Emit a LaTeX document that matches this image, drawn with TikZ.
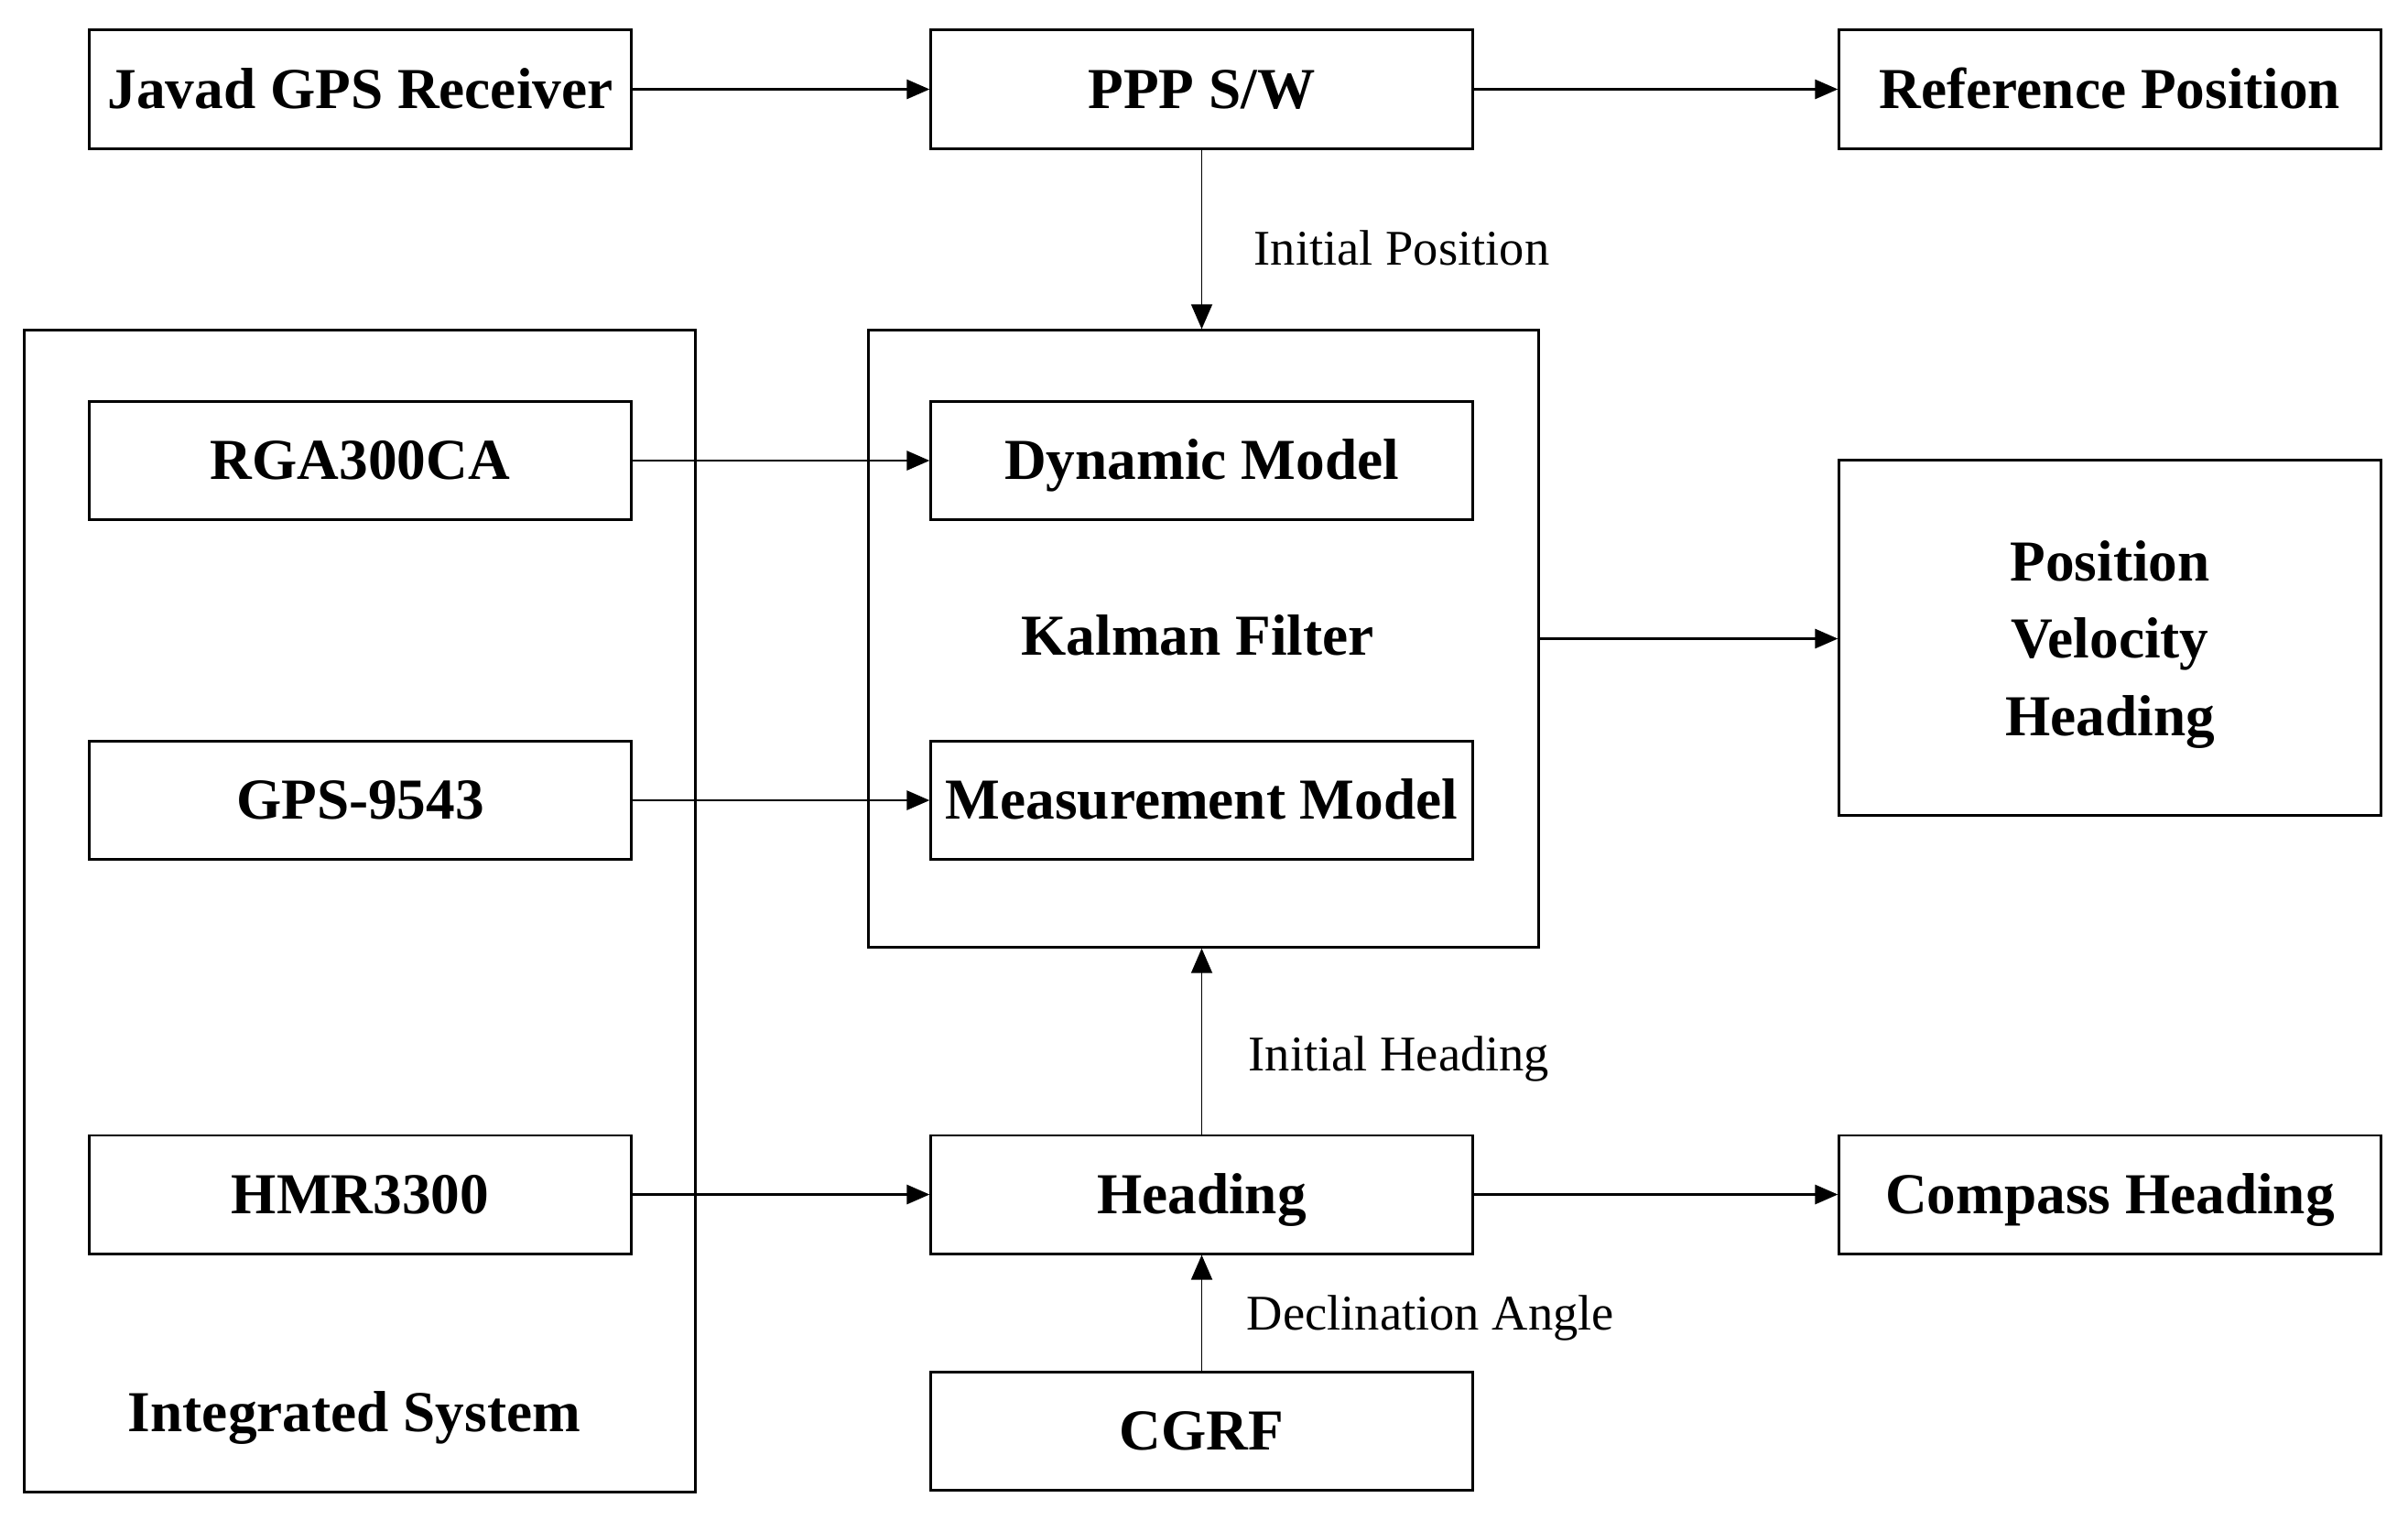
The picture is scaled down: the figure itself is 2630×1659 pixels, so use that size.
\documentclass[tikz,border=0pt]{standalone}
\usepackage{fontspec}
\setmainfont{Liberation Serif}
\usetikzlibrary{arrows.meta}
\begin{document}
\begin{tikzpicture}[x=0.01cm,y=-0.01cm,
  blk/.style={draw,line width=0.85pt,minimum width=5.91cm,minimum height=1.29cm,inner sep=0pt,
    font=\bfseries\fontsize{18}{22}\selectfont,text height=11.9pt,text depth=0pt},
  frame/.style={draw,line width=0.85pt,inner sep=0pt},
  title/.style={font=\bfseries\fontsize{18}{22}\selectfont,inner sep=0pt,text height=11.9pt,text depth=0pt},
  lbl/.style={font=\fontsize{15.5}{18}\selectfont,inner sep=0pt,anchor=base west},
  harr/.style={line width=0.8pt,-{Triangle[length=0.25cm,width=0.21cm]}},
  varr/.style={line width=0.5pt,-{Triangle[length=0.27cm,width=0.23cm]}}]
\useasboundingbox (0,0) rectangle (2630,1659);
% outer frames
\node[frame,minimum width=7.32cm,minimum height=12.68cm] (integ) at (393,995) {};
\node[frame,minimum width=7.31cm,minimum height=6.73cm] (kal) at (1314.5,697.5) {};
% boxes
\node[blk] (jav) at (393.5,97.5) {Javad GPS Receiver};
\node[blk] (ppp) at (1312.5,97.5) {PPP S/W};
\node[blk] (ref) at (2304.5,97.5) {Reference Position};
\node[blk] (rga) at (393.5,503) {RGA300CA};
\node[blk] (gps) at (393.5,874) {GPS-9543};
\node[blk] (hmr) at (393.5,1304.5) {HMR3300};
\node[blk] (dyn) at (1312.5,503) {Dynamic Model};
\node[blk] (meas) at (1312.5,874) {Measurement Model};
\node[blk] (head) at (1312.5,1304.5) {Heading};
\node[blk] (comp) at (2304.5,1304.5) {Compass Heading};
\node[blk] (cgrf) at (1312.5,1563) {CGRF};
\node[draw,line width=0.85pt,minimum width=5.91cm,minimum height=3.87cm,inner sep=0pt,
  font=\bfseries\fontsize{18}{24}\selectfont] (pvh) at (2304.5,696.5) {};
\node[title] (pvh1) at (2304.5,614) {Position};
\node[title] (pvh2) at (2304.5,698) {Velocity};
\node[title] (pvh3) at (2304.5,783) {Heading};
% titles
\node[title] (kft) at (1308,695) {Kalman Filter};
\node[title] (ist) at (387,1543) {Integrated System};
% connectors
\draw[harr] (jav) -- (ppp);
\draw[harr] (ppp) -- (ref);
\draw[varr] (ppp) -- (kal.north -| ppp.south);
\draw[harr] (rga) -- (dyn);
\draw[harr] (gps) -- (meas);
\draw[harr] (hmr) -- (head);
\draw[harr] (kal.east) -- (pvh.west |- kal.east);
\draw[varr] (head) -- (kal.south -| head.north);
\draw[harr] (head) -- (comp);
\draw[varr] (cgrf) -- (head);
% labels
\node[lbl] (lip) at (1369,289) {Initial Position};
\node[lbl] (lih) at (1363,1169) {Initial Heading};
\node[lbl] (lda) at (1361,1452) {Declination Angle};
\end{tikzpicture}
\end{document}
